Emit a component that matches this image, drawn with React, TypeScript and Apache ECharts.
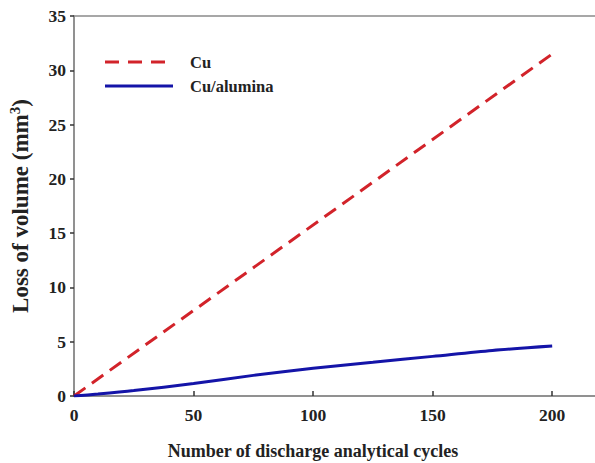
import React, { useEffect, useRef } from "react";
import * as echarts from "echarts";

const cuX = [0, 200];
const cuY = [0, 31.5];
const aluX = [0, 10, 25, 50, 75, 100, 125, 150, 175, 200];
const aluY = [0, 0.18, 0.5, 1.15, 1.9, 2.55, 3.1, 3.65, 4.2, 4.6];
const seriesNames = ["Cu", "Cu/alumina"];
const xTitle = "Number of discharge analytical cycles";
const yTitle = "Loss of volume (mm{sup|3})";

const FONT = "'Liberation Serif', 'Times New Roman', serif";
const AXIS_COLOR = "#8a8a8a";
const RED = "#d2232a";
const BLUE = "#1414a8";

export default function App() {
  const ref = useRef<HTMLDivElement>(null);
  useEffect(() => {
    document.body.style.margin = "0";
    if (!ref.current) return;
    const chart = echarts.init(ref.current, undefined, { renderer: "svg" });
    chart.setOption({
      animation: false,
      backgroundColor: "#ffffff",
      grid: {
        left: 74,
        top: 16,
        bottom: 67,
        width: 526,
        show: true,
        borderColor: AXIS_COLOR,
        borderWidth: 1.5,
        containLabel: false,
        outerBoundsMode: "none",
      },
      graphic: [
        {
          type: "line",
          shape: { x1: 105, y1: 62, x2: 165, y2: 62 },
          style: { stroke: RED, lineWidth: 3, lineDash: [14, 9] },
        },
        {
          type: "line",
          shape: { x1: 105, y1: 86, x2: 173, y2: 86 },
          style: { stroke: BLUE, lineWidth: 3 },
        },
        {
          type: "text",
          x: 190,
          y: 62,
          style: {
            text: seriesNames[0],
            fontFamily: FONT,
            fontWeight: "bold",
            fontSize: 16.5,
            fill: "#222",
            verticalAlign: "middle",
          },
        },
        {
          type: "text",
          x: 190,
          y: 86,
          style: {
            text: seriesNames[1],
            fontFamily: FONT,
            fontWeight: "bold",
            fontSize: 16.5,
            fill: "#222",
            verticalAlign: "middle",
          },
        },
      ],
      xAxis: {
        type: "value",
        min: 0,
        max: 220,
        interval: 50,
        name: xTitle,
        nameLocation: "middle",
        nameGap: 46,
        nameTextStyle: {
          fontFamily: FONT,
          fontWeight: "bold",
          fontSize: 18,
          color: "#222",
          padding: [0, 48, 0, 0],
        },
        axisLine: { show: true, lineStyle: { color: AXIS_COLOR, width: 1.5 } },
        axisTick: { show: true, inside: true, length: 5, lineStyle: { color: "#333", width: 1.5 } },
        splitLine: { show: false },
        axisLabel: {
          showMaxLabel: false,
          margin: 10,
          fontFamily: FONT,
          fontWeight: "bold",
          fontSize: 17.5,
          color: "#222",
        },
      },
      yAxis: {
        type: "value",
        min: 0,
        max: 35,
        interval: 5,
        name: yTitle,
        nameLocation: "middle",
        nameGap: 40,
        nameTextStyle: {
          fontFamily: FONT,
          fontWeight: "bold",
          fontSize: 23,
          color: "#222",
          rich: {
            sup: {
              fontFamily: FONT,
              fontWeight: "bold",
              fontSize: 15,
              color: "#222",
              verticalAlign: "top",
              padding: [0, 0, 12, 0],
            },
          },
        },
        axisLine: { show: true, lineStyle: { color: AXIS_COLOR, width: 1.5 } },
        axisTick: { show: true, inside: false, length: 4, lineStyle: { color: "#333", width: 1.5 } },
        splitLine: { show: false },
        axisLabel: {
          margin: 8,
          fontFamily: FONT,
          fontWeight: "bold",
          fontSize: 17.5,
          color: "#222",
        },
      },
      series: [
        {
          name: seriesNames[0],
          type: "line",
          symbol: "none",
          data: cuX.map((x, i) => [x, cuY[i]]),
          lineStyle: { color: RED, width: 3, type: [14, 8] },
          itemStyle: { color: RED },
        },
        {
          name: seriesNames[1],
          type: "line",
          symbol: "none",
          smooth: 0.3,
          data: aluX.map((x, i) => [x, aluY[i]]),
          lineStyle: { color: BLUE, width: 3 },
          itemStyle: { color: BLUE },
        },
      ],
    });
    return () => chart.dispose();
  }, []);
  return <div ref={ref} style={{ width: 595, height: 463 }} />;
}
